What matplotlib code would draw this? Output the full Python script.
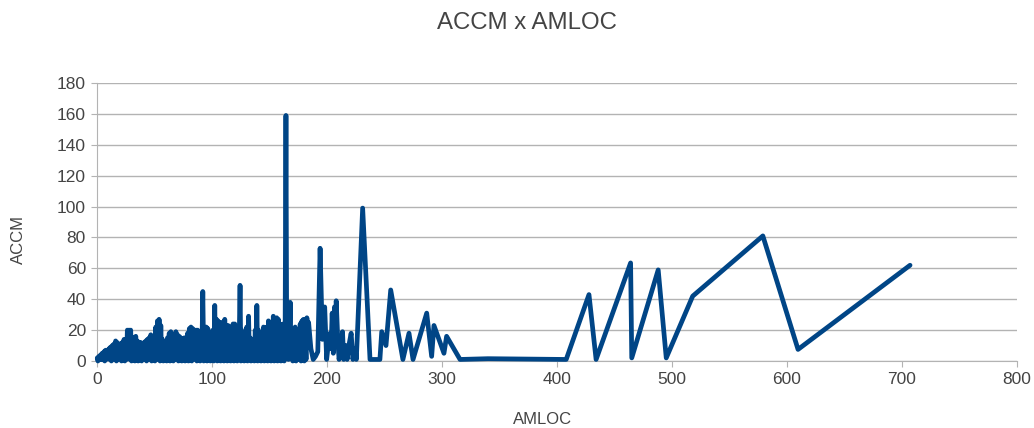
import matplotlib
matplotlib.use("Agg")
import matplotlib.pyplot as plt

amloc = [
    0.2, 0.8, 1.6, 2.3, 3.1, 3.8, 4.5, 5.2, 6.0, 6.7, 7.5, 8.1, 8.9, 9.6, 10.4, 11.0, 11.8, 12.5, 13.3, 14.0,
    14.7, 15.4, 16.2, 16.9, 17.6, 18.3, 19.1, 19.8, 20.6, 21.3, 22.0, 22.8, 23.5, 24.2, 25.0, 25.7, 26.4, 27.1,
    27.9, 28.6, 29.3, 30.0, 30.8, 31.5, 32.2, 32.9, 33.7, 34.4, 35.1, 35.8, 36.6, 37.3, 38.0, 38.8, 39.5, 40.2,
    41.0, 41.7, 42.4, 43.1, 43.9, 44.6, 45.3, 46.0, 46.8, 47.5, 48.2, 49.0, 49.7, 50.4, 51.1, 51.9, 52.6, 53.3,
    54.0, 54.8, 55.5, 56.2, 56.9, 57.7, 58.4, 59.1, 59.9, 60.6, 61.3, 62.0, 62.8, 63.5, 64.2, 64.9, 65.7, 66.4,
    67.1, 67.8, 68.6, 69.3, 70.0, 70.8, 71.5, 72.2, 72.9, 73.7, 74.4, 75.1, 75.9, 76.6, 77.3, 78.0, 78.8, 79.5,
    80.3, 81.0, 81.7, 82.4, 83.2, 83.9, 84.6, 85.3, 86.1, 86.8, 87.5, 88.2, 89.0, 89.7, 90.4, 91.1, 92.0, 92.8,
    93.5, 94.2, 95.0, 95.7, 96.4, 97.2, 97.9, 98.6, 99.3, 100.1, 100.8, 101.5, 102.4, 103.1, 103.8, 104.6, 105.3,
    106.0, 106.7, 107.5, 108.2, 108.9, 109.6, 110.4, 111.1, 111.8, 112.5, 113.3, 114.0, 114.7, 115.4, 116.2,
    116.9, 117.6, 118.3, 119.1, 119.8, 120.5, 121.2, 122.0, 122.7, 123.4, 124.4, 125.1, 125.8, 126.5, 127.3,
    128.0, 128.7, 129.4, 130.2, 130.9, 131.8, 132.5, 133.2, 133.9, 134.7, 135.4, 136.1, 136.8, 137.6, 138.4,
    139.0, 139.7, 140.4, 141.2, 141.9, 142.6, 143.3, 144.1, 144.8, 145.5, 146.2, 147.0, 147.7, 148.4, 149.1,
    149.9, 150.6, 151.3, 152.0, 152.8, 153.3, 154.1, 154.8, 155.5, 156.3, 157.0, 157.7, 158.4, 159.2, 159.9,
    160.6, 161.3, 162.1, 162.8, 163.6, 164.3, 165.0, 165.7, 166.5, 167.3, 168.0, 168.7, 169.4, 170.2, 170.9,
    171.6, 172.3, 173.1, 173.8, 174.5, 175.3, 176.0, 176.7, 177.4, 178.2, 178.9, 179.6, 180.3, 181.1, 181.8,
    182.5, 183.2, 184.0, 186.0, 188.0, 190.0, 192.0, 194.0, 196.0, 198.0, 199.7, 201.0, 202.6, 203.5, 204.5,
    205.5, 206.5, 207.2, 208.0, 209.5, 210.5, 212.5, 213.5, 214.5, 216.5, 217.5, 219.5, 221.0, 222.5, 224.5,
    225.5, 231.0, 237.4, 246.0, 247.6, 251.3, 255.4, 266.0, 271.3, 274.8, 286.7, 291.0, 293.0, 301.7, 304.0,
    315.7, 340.0, 408.0, 427.8, 434.0, 464.0, 465.0, 488.0, 495.0, 518.0, 579.0, 609.6, 707.0,
]

accm = [
    2, 0, 3, 1, 4, 1, 5, 1, 6, 0, 7, 1, 7, 2, 8, 1, 9, 0, 10, 2,
    11, 1, 13, 0, 12, 1, 11, 2, 11, 0, 12, 1, 14, 0, 13, 1, 20, 2,
    20, 1, 20, 0, 15, 1, 15, 0, 16, 2, 13, 0, 12, 1, 12, 0, 11, 2,
    12, 1, 13, 0, 14, 1, 15, 2, 17, 0, 16, 1, 16, 0, 22, 1, 26, 2,
    27, 0, 23, 1, 14, 0, 12, 1, 13, 0, 15, 2, 18, 0, 19, 1, 14, 0,
    16, 1, 19, 2, 17, 0, 16, 1, 15, 0, 14, 1, 15, 0, 15, 2, 18, 0,
    21, 1, 22, 0, 21, 1, 20, 2, 20, 0, 20, 1, 17, 0, 19, 1, 45, 0,
    20, 1, 22, 0, 21, 2, 18, 0, 17, 1, 20, 0, 36, 1, 27, 0, 26,
    2, 24, 0, 25, 1, 22, 0, 27, 1, 23, 0, 23, 2, 20, 0,
    22, 1, 24, 0, 24, 1, 22, 0, 18, 2, 49, 0, 20, 1, 18,
    0, 18, 1, 22, 0, 29, 2, 15, 0, 14, 1, 12, 0, 20, 1,
    36, 0, 20, 2, 10, 0, 18, 1, 22, 0, 18, 2, 22, 0, 26,
    1, 20, 0, 25, 1, 29, 0, 22, 2, 28, 0, 27, 1, 24, 0,
    20, 2, 24, 0, 22, 159, 5, 22, 1, 15, 38, 2, 15, 0, 20,
    1, 22, 0, 10, 2, 20, 1, 24, 0, 26, 2, 27, 0, 15, 1,
    28, 20, 25, 8, 1, 3, 6, 73, 14, 35, 1, 10, 18, 8, 31,
    5, 35, 14, 39, 12, 1, 12, 19, 1, 10, 1, 12, 18, 1, 8,
    1, 99, 1, 1, 19, 10, 46, 1, 18, 1, 31, 3, 23, 5, 16,
    1, 1.5, 1, 43, 1, 63.5, 2, 59, 2, 42, 81, 7.5, 62,
]

x_ticks = [0, 100, 200, 300, 400, 500, 600, 700, 800]
y_ticks = [0, 20, 40, 60, 80, 100, 120, 140, 160, 180]

plt.rcParams['font.family'] = ['Liberation Sans', 'DejaVu Sans']

fig = plt.figure(figsize=(10.34, 4.28), dpi=100)
ax = fig.add_axes([97/1034, 1 - 361/428, (1017 - 97)/1034, (361 - 83)/428])

ax.plot(amloc, accm, color='#004586', linewidth=3.4,
        solid_joinstyle='round', solid_capstyle='round', zorder=3, clip_on=False)

ax.set_xlim(0, 800)
ax.set_ylim(0, 180)
ax.set_xticks(x_ticks)
ax.set_yticks(y_ticks)
ax.tick_params(axis='both', labelsize=12.5, colors='#444444', length=4,
               width=0.8, direction='out', pad=4)
ax.tick_params(axis='both', color='#b3b3b3')
ax.grid(axis='y', color='#b3b3b3', linewidth=1.0)
ax.set_axisbelow(True)
for s in ['top', 'right']:
    ax.spines[s].set_visible(False)
ax.spines['left'].set_color('#b3b3b3')
ax.spines['bottom'].set_color('#b3b3b3')

fig.text(527/1034, 1 - 23/428, 'ACCM x AMLOC', ha='center', va='center',
         fontsize=17.3, color='#444444')
fig.text(543/1034, 1 - 420/428, 'AMLOC', ha='center', va='center',
         fontsize=12, color='#444444')
fig.text(18/1034, 1 - 240/428, 'ACCM', ha='center', va='center',
         rotation=90, fontsize=12, color='#444444')

fig.savefig('out.png', dpi=100)
